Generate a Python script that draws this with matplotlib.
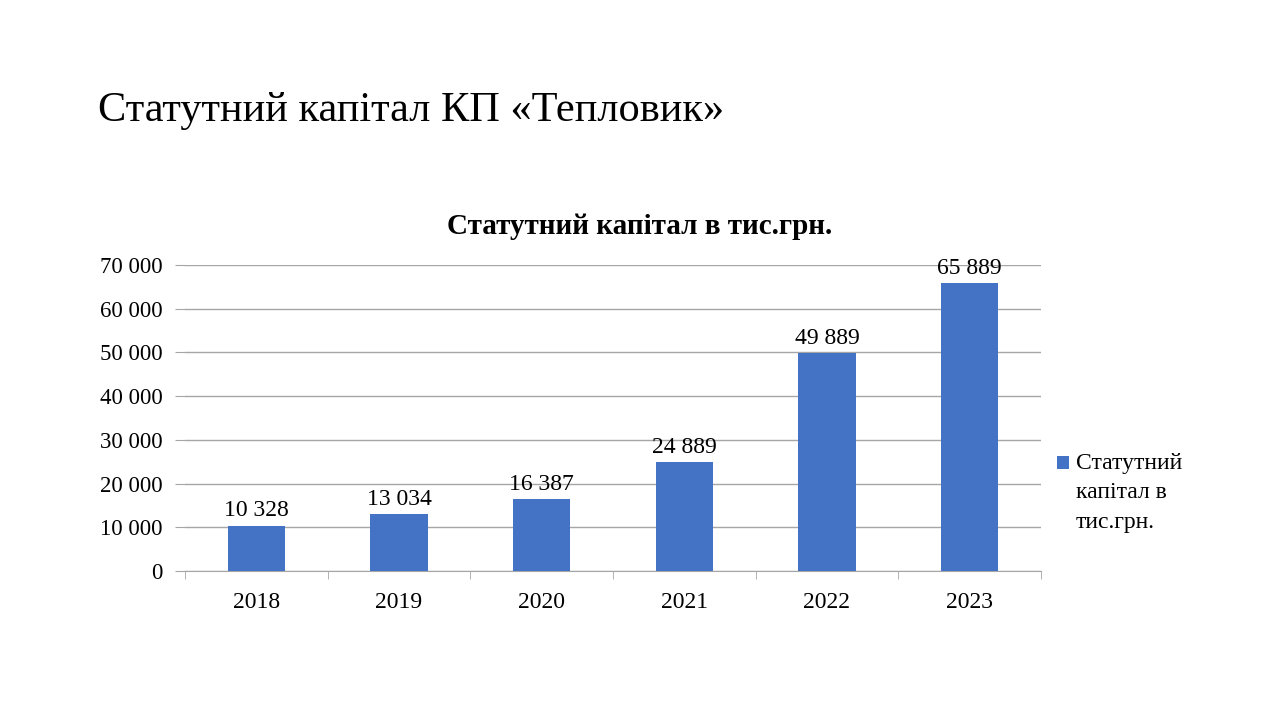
import matplotlib.pyplot as plt
from matplotlib.patches import Rectangle
from matplotlib.ticker import FuncFormatter

plt.rcParams['font.family'] = ['Liberation Serif', 'DejaVu Serif']

# data
years = ['2018', '2019', '2020', '2021', '2022', '2023']
capital = [10328, 13034, 16387, 24889, 49889, 65889]
series_name = 'Статутний\nкапітал в\nтис.грн.'

def fmt(v):
    return f'{int(v):,}'.replace(',', ' ')

fig = plt.figure(figsize=(12.8, 7.2), dpi=100)
fig.text(98 / 1280, 1 - 111 / 720, 'Статутний капітал КП «Тепловик»',
         fontsize=30.5, va='center', ha='left')

ax = fig.add_axes([185 / 1280, 149 / 720, 856 / 1280, 306 / 720])
x = range(len(years))
ax.bar(x, capital, width=0.4, color='#4472C4', zorder=3)
for xi, v in zip(x, capital):
    ax.text(xi, v + 1000, fmt(v), ha='center', va='bottom', fontsize=17)

ax.set_xlim(-0.5, len(years) - 0.5)
ax.set_ylim(0, 70000)
ax.set_yticks(range(0, 70001, 10000))
ax.yaxis.set_major_formatter(FuncFormatter(lambda v, p: fmt(v)))
ax.grid(axis='y', color='#a6a6a6', linewidth=1, zorder=0)
ax.set_xticks(list(x))
ax.set_xticklabels(years)
ax.set_xticks([i - 0.5 for i in range(len(years) + 1)], minor=True)
ax.tick_params(axis='x', which='major', length=0, labelsize=17, pad=15)
ax.tick_params(axis='x', which='minor', length=6, color='#a6a6a6', direction='out')
ax.tick_params(axis='y', length=7, color='#a6a6a6', labelsize=16.5, pad=9)
for s in ['top', 'right', 'left']:
    ax.spines[s].set_visible(False)
ax.spines['bottom'].set_color('#a6a6a6')

fig.text(0.5, 1 - 226 / 720, 'Статутний капітал в тис.грн.', fontsize=21,
         fontweight='bold', ha='center', va='center')

# legend
fig.patches.append(Rectangle((1057 / 1280, 1 - 469 / 720), 12 / 1280, 13 / 720,
                             transform=fig.transFigure, facecolor='#4472C4',
                             edgecolor='none'))
fig.text(1076 / 1280, 1 - 453 / 720, series_name, fontsize=17,
         ha='left', va='top', linespacing=1.52)

fig.savefig('out.png', dpi=100)
